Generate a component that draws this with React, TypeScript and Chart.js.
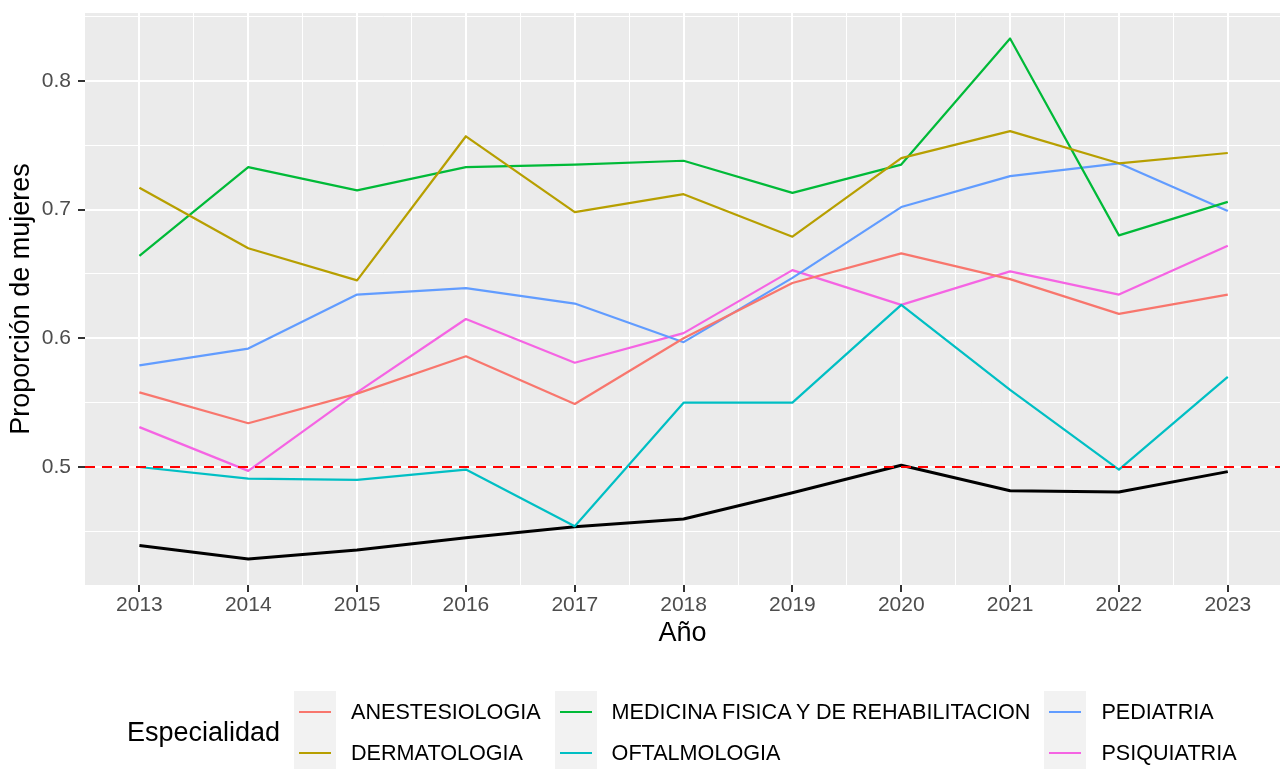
import React, { useEffect, useRef } from "react";
import { Chart, registerables } from "chart.js";

Chart.register(...registerables);

const years = [2013, 2014, 2015, 2016, 2017, 2018, 2019, 2020, 2021, 2022, 2023];

const anestesiologia = [0.558, 0.534, 0.557, 0.586, 0.549, 0.600, 0.643, 0.666, 0.646, 0.619, 0.634];
const dermatologia = [0.717, 0.670, 0.645, 0.757, 0.698, 0.712, 0.679, 0.740, 0.761, 0.736, 0.744];
const medicinaFisica = [0.664, 0.733, 0.715, 0.733, 0.735, 0.738, 0.713, 0.735, 0.833, 0.680, 0.706];
const oftalmologia = [0.500, 0.491, 0.490, 0.498, 0.454, 0.550, 0.550, 0.626, 0.560, 0.498, 0.570];
const pediatria = [0.579, 0.592, 0.634, 0.639, 0.627, 0.597, 0.647, 0.702, 0.726, 0.736, 0.699];
const psiquiatria = [0.531, 0.497, 0.558, 0.615, 0.581, 0.604, 0.653, 0.626, 0.652, 0.634, 0.672];
const total = [0.439, 0.4285, 0.4355, 0.445, 0.4536, 0.4596, 0.480, 0.5013, 0.4815, 0.4806, 0.4964];

const referenceLine = 0.5;

const yMajorTicks = [0.5, 0.6, 0.7, 0.8];
const yMinorTicks = [0.45, 0.55, 0.65, 0.75, 0.85];
const xMinorTicks = [2013.5, 2014.5, 2015.5, 2016.5, 2017.5, 2018.5, 2019.5, 2020.5, 2021.5, 2022.5];

const series = [
  { label: "ANESTESIOLOGIA", values: anestesiologia, color: "#F8766D" },
  { label: "DERMATOLOGIA", values: dermatologia, color: "#B79F00" },
  { label: "MEDICINA FISICA Y DE REHABILITACION", values: medicinaFisica, color: "#00BA38" },
  { label: "OFTALMOLOGIA", values: oftalmologia, color: "#00BFC4" },
  { label: "PEDIATRIA", values: pediatria, color: "#619CFF" },
  { label: "PSIQUIATRIA", values: psiquiatria, color: "#F564E3" },
];

const legendColumns = [
  [series[0], series[1]],
  [series[2], series[3]],
  [series[4], series[5]],
];

const FONT = "'Liberation Sans', Arial, Helvetica, sans-serif";

const isMajorY = (v: number) => yMajorTicks.some((t) => Math.abs(t - v) < 1e-6);
const isMajorX = (v: number) => years.includes(v);

const panelBg = {
  id: "panelBg",
  beforeDraw(chart: any) {
    const { ctx, chartArea } = chart;
    ctx.save();
    ctx.fillStyle = "#EBEBEB";
    ctx.fillRect(chartArea.left, chartArea.top, chartArea.right - chartArea.left, chartArea.bottom - chartArea.top);
    ctx.restore();
  },
};

const hline = {
  id: "hline",
  afterDatasetsDraw(chart: any) {
    const { ctx, chartArea, scales } = chart;
    const y = scales.y.getPixelForValue(referenceLine);
    ctx.save();
    ctx.beginPath();
    ctx.rect(chartArea.left, chartArea.top, chartArea.right - chartArea.left, chartArea.bottom - chartArea.top);
    ctx.clip();
    ctx.strokeStyle = "#FF0000";
    ctx.lineWidth = 2;
    ctx.setLineDash([10, 7]);
    ctx.beginPath();
    ctx.moveTo(chartArea.left, y);
    ctx.lineTo(chartArea.right, y);
    ctx.stroke();
    ctx.restore();
  },
};

function LineChart() {
  const ref = useRef<HTMLCanvasElement | null>(null);
  useEffect(() => {
    if (!ref.current) return;
    const datasets: any[] = series.map((s) => ({
      label: s.label,
      data: years.map((x, i) => ({ x, y: s.values[i] })),
      borderColor: s.color,
      backgroundColor: s.color,
      borderWidth: 2.2,
      pointRadius: 0,
      borderJoinStyle: "round",
      tension: 0,
    }));
    datasets.push({
      label: "TOTAL",
      data: years.map((x, i) => ({ x, y: total[i] })),
      borderColor: "#000000",
      backgroundColor: "#000000",
      borderWidth: 3,
      pointRadius: 0,
      borderJoinStyle: "round",
      tension: 0,
    });
    const chart = new Chart(ref.current, {
      type: "line",
      data: { datasets },
      plugins: [panelBg, hline],
      options: {
        animation: false,
        responsive: true,
        maintainAspectRatio: false,
        layout: { padding: { top: 13, right: 0, left: 0, bottom: 119 } },
        plugins: { legend: { display: false }, tooltip: { enabled: false } },
        scales: {
          x: {
            type: "linear",
            min: 2012.5,
            max: 2023.48,
            afterBuildTicks: (scale: any) => {
              scale.ticks = [...years, ...xMinorTicks].sort((a, b) => a - b).map((v) => ({ value: v }));
            },
            afterFit: (scale: any) => {
              scale.height = 65;
              scale.paddingLeft = 0;
              scale.paddingRight = 0;
            },
            ticks: {
              autoSkip: false,
              maxRotation: 0,
              padding: 1,
              color: "#4D4D4D",
              font: { family: FONT, size: 21 },
              callback: (v: any) => (isMajorX(Number(v)) ? String(v) : ""),
            },
            grid: {
              color: "#FFFFFF",
              lineWidth: (c: any) => (isMajorX(c.tick?.value) ? 2 : 1),
              tickColor: (c: any) => (isMajorX(c.tick?.value) ? "#333333" : "rgba(0,0,0,0)"),
              tickLength: 7,
              tickWidth: 2,
            },
            border: { display: false },
            title: {
              display: true,
              text: "Año",
              color: "#000000",
              font: { family: FONT, size: 27 },
              padding: { top: 0, bottom: 0 },
            },
          },
          y: {
            type: "linear",
            min: 0.4083,
            max: 0.8528,
            afterBuildTicks: (scale: any) => {
              scale.ticks = [...yMajorTicks, ...yMinorTicks].sort((a, b) => a - b).map((v) => ({ value: v }));
            },
            afterFit: (scale: any) => {
              scale.width = 85;
              scale.paddingTop = 0;
              scale.paddingBottom = 0;
            },
            ticks: {
              autoSkip: false,
              padding: 7,
              color: "#4D4D4D",
              font: { family: FONT, size: 21 },
              callback: (v: any) => (isMajorY(Number(v)) ? Number(v).toFixed(1) : ""),
            },
            grid: {
              color: "#FFFFFF",
              lineWidth: (c: any) => (isMajorY(c.tick?.value) ? 2 : 1),
              tickColor: (c: any) => (isMajorY(c.tick?.value) ? "#333333" : "rgba(0,0,0,0)"),
              tickLength: 7,
              tickWidth: 2,
            },
            border: { display: false },
            title: {
              display: true,
              text: "Proporción de mujeres",
              color: "#000000",
              font: { family: FONT, size: 27 },
              padding: { top: 5, bottom: 0 },
            },
          },
        },
      } as any,
    });
    return () => chart.destroy();
  }, []);
  return <canvas ref={ref} />;
}

function Legend() {
  return (
    <div style={{ position: "absolute", left: 0, top: 691, width: 1280, height: 82, fontFamily: FONT }}>
      <div style={{ position: "absolute", left: 127, top: 41, transform: "translateY(-50%)", fontSize: 27, color: "#000", whiteSpace: "nowrap" }}>
        Especialidad
      </div>
      <div style={{ position: "absolute", left: 294, top: 0, display: "flex" }}>
        {legendColumns.map((col, ci) => (
          <div key={ci} style={{ display: "flex", flexDirection: "column", marginRight: 14 }}>
            {col.map((s) => (
              <div key={s.label} style={{ display: "flex", alignItems: "center", height: 41 }}>
                <div style={{ width: 42, height: 41, background: "#F2F2F2", position: "relative", flex: "0 0 auto" }}>
                  <div style={{ position: "absolute", left: 5, right: 5, top: 19.5, height: 2, background: s.color }} />
                </div>
                <div style={{ marginLeft: 15, fontSize: 21.6, color: "#000", whiteSpace: "nowrap" }}>{s.label}</div>
              </div>
            ))}
          </div>
        ))}
      </div>
    </div>
  );
}

export default function App() {
  useEffect(() => {
    document.body.style.margin = "0";
    document.body.style.overflow = "hidden";
    document.body.style.background = "#FFFFFF";
  }, []);
  return (
    <div style={{ position: "relative", width: 1280, height: 769, overflow: "hidden", background: "#FFFFFF" }}>
      <div style={{ position: "absolute", left: 0, top: 0, width: 1280, height: 769 }}>
        <LineChart />
      </div>
      <Legend />
    </div>
  );
}
